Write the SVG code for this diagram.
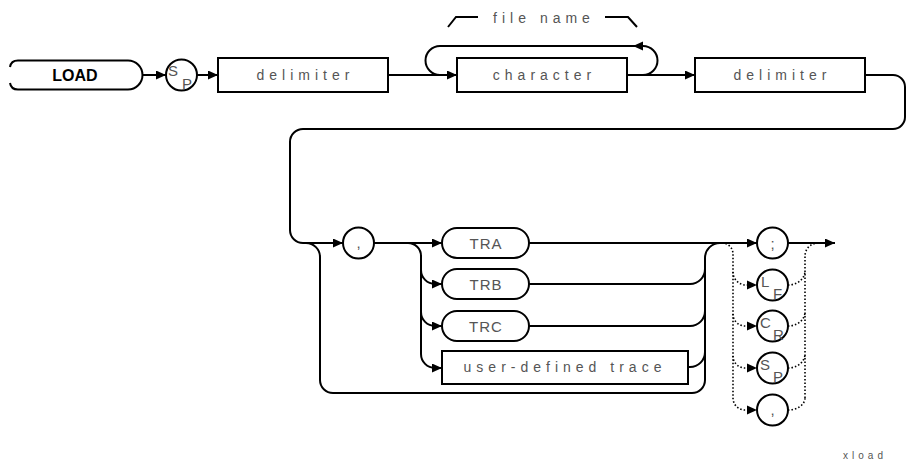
<svg xmlns="http://www.w3.org/2000/svg" width="906" height="461" viewBox="0 0 906 461">
<style>
.ln{fill:none;stroke:#000;stroke-width:2}
.dt{fill:none;stroke:#000;stroke-width:1.6;stroke-dasharray:1.5 2}
.bx{fill:#fff;stroke:#000;stroke-width:2}
.t{font-family:"Liberation Sans",Arial,sans-serif;font-size:14px;fill:#555;letter-spacing:5px;text-anchor:middle}
.tc{font-family:"Liberation Sans",Arial,sans-serif;font-size:15px;fill:#555;letter-spacing:1px;text-anchor:middle}
.sub{font-family:"Liberation Sans",Arial,sans-serif;font-size:15px;fill:#555}
.kw{font-family:"Liberation Sans",Arial,sans-serif;font-size:16px;font-weight:bold;fill:#000;text-anchor:middle}
.ah{fill:#000}
</style>
<defs>
<marker id="arr" markerUnits="userSpaceOnUse" markerWidth="11" markerHeight="9" refX="10" refY="4.5" orient="auto"><path d="M0,0 L10,4.5 L0,9 z" fill="#000"/></marker>
</defs>
<g id="connectors">
<path class="ln" d="M143,75 H166" marker-end="url(#arr)"/>
<path class="ln" d="M197,75 H218" marker-end="url(#arr)"/>
<path class="ln" d="M388,75 H457" marker-end="url(#arr)"/>
<path class="ln" d="M643,75 A14.5 14.5 0 0 0 643,46 H440 A14.5 14.5 0 0 0 440,75"/>
<polygon class="ah" points="633,46 643,41.5 643,50.5"/>
<path class="ln" d="M627,75 H695" marker-end="url(#arr)"/>
<path class="ln" d="M865,75 H893 A12 12 0 0 1 905,87 V117 A12 12 0 0 1 893,129 H303 A13 13 0 0 0 290,142 V230 A13 13 0 0 0 303,243 H343" marker-end="url(#arr)"/>
<path class="ln" d="M306,243 A14 14 0 0 1 320,257 V380 A13 13 0 0 0 333,393 H692 A13 13 0 0 0 705,380 V258 A15 15 0 0 1 720,243"/>
<path class="ln" d="M374,243 H442" marker-end="url(#arr)"/>
<path class="ln" d="M408,243 A13 13 0 0 1 421,256 V354 A14 14 0 0 0 435,368 H442" marker-end="url(#arr)"/>
<path class="ln" d="M421,270 A14 14 0 0 0 435,284 H442" marker-end="url(#arr)"/>
<path class="ln" d="M421,312 A14 14 0 0 0 435,326 H442" marker-end="url(#arr)"/>
<path class="ln" d="M529,243 H757" marker-end="url(#arr)"/>
<path class="ln" d="M529,284 H690 A15 15 0 0 0 705,269"/>
<path class="ln" d="M529,326 H690 A15 15 0 0 0 705,311"/>
<path class="ln" d="M688,367 H690 A15 15 0 0 0 705,352"/>
<path class="ln" d="M788,243 H835" marker-end="url(#arr)"/>
<path class="dt" d="M722,243 A11 11 0 0 1 733,254 V398 A12 12 0 0 0 745,410 H748"/>
<path class="dt" d="M733,272 A13 13 0 0 0 746,285 H748"/>
<path class="dt" d="M733,314 A12 12 0 0 0 745,326 H748"/>
<path class="dt" d="M733,356 A12 12 0 0 0 745,368 H748"/>
<polygon class="ah" points="757,285 747,280.5 747,289.5"/>
<polygon class="ah" points="757,326 747,321.5 747,330.5"/>
<polygon class="ah" points="757,368 747,363.5 747,372.5"/>
<polygon class="ah" points="757,410 747,405.5 747,414.5"/>
<path class="dt" d="M805,398 V256 A13 13 0 0 1 818,243"/>
<path class="dt" d="M788,285 A17 14 0 0 0 805,271"/>
<path class="dt" d="M788,326 A17 14 0 0 0 805,312"/>
<path class="dt" d="M788,368 A17 14 0 0 0 805,354"/>
<path class="dt" d="M788,410 A17 12 0 0 0 805,398"/>
</g>
<g id="load">
<path class="ln" d="M10,67 Q11,60.5 18,60.5 H128 A14.5 14.5 0 0 1 128,89.5 H18 Q11,89.5 10,83"/>
<text class="kw" x="75" y="81">LOAD</text>
</g>
<g id="sp1">
<circle class="bx" cx="181.5" cy="75" r="15.5"/>
<text class="sub" x="168" y="76">S</text><text class="sub" x="182" y="89">P</text>
</g>
<g id="delimiter1">
<rect class="bx" x="218" y="58" width="170" height="34"/>
<text class="t" x="305.5" y="80">delimiter</text>
</g>
<g id="filename">
<path class="ln" d="M448,27 L456,17 H478"/>
<path class="ln" d="M605,17 H628 L637,27"/>
<text class="t" x="544" y="23">file name</text>
</g>
<g id="character">
<rect class="bx" x="457" y="58" width="170" height="34"/>
<text class="t" x="544.5" y="80">character</text>
</g>
<g id="delimiter2">
<rect class="bx" x="695" y="58" width="170" height="34"/>
<text class="t" x="782.5" y="80">delimiter</text>
</g>
<g id="comma1">
<circle class="bx" cx="358.5" cy="243" r="15.5"/>
<text class="tc" x="359" y="248">,</text>
</g>
<g id="tra">
<rect class="bx" x="442" y="228" width="87" height="30" rx="15"/>
<text class="tc" x="486" y="248.5">TRA</text>
</g>
<g id="trb">
<rect class="bx" x="442" y="269" width="87" height="30" rx="15"/>
<text class="tc" x="486" y="289.5">TRB</text>
</g>
<g id="trc">
<rect class="bx" x="442" y="311" width="87" height="30" rx="15"/>
<text class="tc" x="486" y="331.5">TRC</text>
</g>
<g id="udt">
<rect class="bx" x="442" y="351" width="246" height="33"/>
<text class="t" x="565" y="372">user-defined trace</text>
</g>
<g id="semicolon">
<circle class="bx" cx="772.5" cy="243" r="15.5"/>
<text class="tc" x="773" y="249">;</text>
</g>
<g id="lf">
<circle class="bx" cx="772.5" cy="285" r="15.5"/>
<text class="sub" x="761" y="287">L</text><text class="sub" x="773" y="299">F</text>
</g>
<g id="cr">
<circle class="bx" cx="772.5" cy="326" r="15.5"/>
<text class="sub" x="760" y="328">C</text><text class="sub" x="773" y="340">R</text>
</g>
<g id="sp2">
<circle class="bx" cx="772.5" cy="368" r="15.5"/>
<text class="sub" x="760" y="370">S</text><text class="sub" x="773" y="382">P</text>
</g>
<g id="comma2">
<circle class="bx" cx="772.5" cy="410" r="15.5"/>
<text class="tc" x="773" y="415">,</text>
</g>
<text x="865" y="459" style="font-family:'Liberation Sans',Arial,sans-serif;font-size:10px;fill:#555;letter-spacing:4px;text-anchor:middle">xload</text>
</svg>
